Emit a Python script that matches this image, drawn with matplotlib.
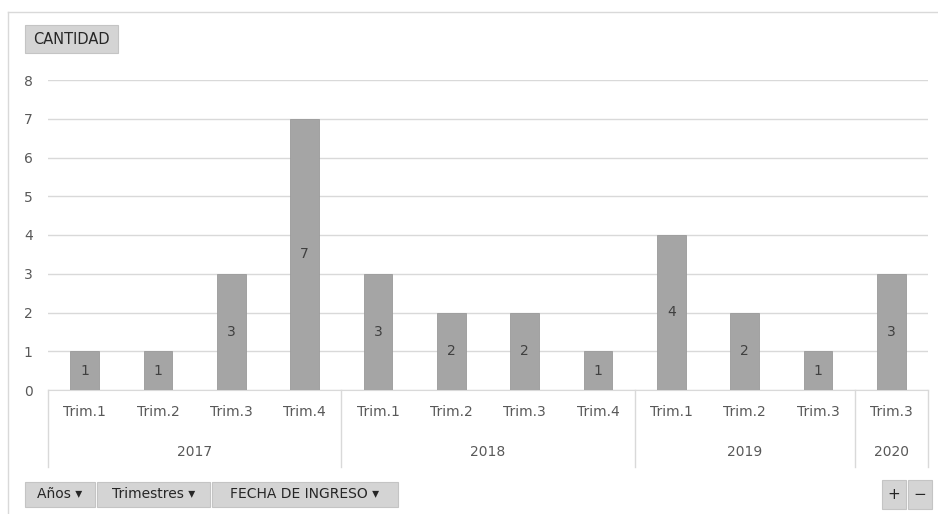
import matplotlib.pyplot as plt
from matplotlib.patches import Rectangle
from matplotlib.transforms import blended_transform_factory

# data
years = ['2017', '2018', '2019', '2020']
quarters = ['Trim.1', 'Trim.2', 'Trim.3', 'Trim.4',
            'Trim.1', 'Trim.2', 'Trim.3', 'Trim.4',
            'Trim.1', 'Trim.2', 'Trim.3',
            'Trim.3']
quarters_per_year = [4, 4, 3, 1]
cantidad = [1, 1, 3, 7, 3, 2, 2, 1, 4, 2, 1, 3]

txt = '#595959'
grid = '#d9d9d9'
W, H = 938, 514

plt.rcParams['font.family'] = ['DejaVu Sans']
fig = plt.figure(figsize=(W / 100, H / 100), dpi=100)

def fx(px):
    return px / W

def fy(py):
    return 1 - py / H

# outer chart frame (left and top edges visible)
fig.add_artist(plt.Line2D([fx(8), fx(8)], [fy(12), 0], color=grid, lw=1))
fig.add_artist(plt.Line2D([fx(8), 1], [fy(12), fy(12)], color=grid, lw=1))

ax = fig.add_axes([fx(48), fy(390), fx(928) - fx(48), fy(80) - fy(390)])
x = list(range(len(cantidad)))
bars = ax.bar(x, cantidad, width=0.39, color='#a5a5a5', edgecolor='#9a9a9a', lw=0.6, zorder=3)
for b, v in zip(bars, cantidad):
    ax.text(b.get_x() + b.get_width() / 2, v / 2, str(v), ha='center', va='center',
            color='#404040', fontsize=10, zorder=4)

ax.set_xlim(-0.5, len(cantidad) - 0.5)
ax.set_ylim(0, 8)
ax.set_yticks(range(0, 9))
ax.yaxis.grid(True, color=grid, lw=1, zorder=0)
ax.tick_params(axis='y', length=0, pad=11, labelsize=10, labelcolor=txt)
ax.set_xticks([])
for s in ['top', 'right', 'left']:
    ax.spines[s].set_visible(False)
ax.spines['bottom'].set_color(grid)

tr = blended_transform_factory(ax.transData, ax.transAxes)
axh = 310.0
for i, q in enumerate(quarters):
    ax.text(i, -22 / axh, q, transform=tr, ha='center', va='center', fontsize=10, color=txt)

start = 0
bounds = [-0.5]
for y, n in zip(years, quarters_per_year):
    mid = start + (n - 1) / 2
    ax.text(mid, -62 / axh, y, transform=tr, ha='center', va='center', fontsize=10, color=txt)
    start += n
    bounds.append(start - 0.5)
for b in bounds:
    ax.plot([b, b], [0, -77 / axh], transform=tr, color=grid, lw=1, clip_on=False)

# field buttons
def button(x0, y0, x1, y1, label, size=10):
    fig.add_artist(Rectangle((fx(x0), fy(y1)), fx(x1) - fx(x0), fy(y0) - fy(y1),
                             facecolor='#d4d4d4', edgecolor='#c4c4c4', lw=0.8))
    fig.text(fx((x0 + x1) / 2), fy((y0 + y1) / 2), label, ha='center', va='center',
             fontsize=size, color='#262626')

button(25, 25, 118, 53, 'CANTIDAD', size=10.5)
button(25, 482, 95, 507, 'Años ▾')
button(97, 482, 210, 507, 'Trimestres ▾')
button(212, 482, 398, 507, 'FECHA DE INGRESO ▾')
button(882, 480, 906, 509, '+', size=11)
button(908, 480, 932, 509, '−', size=11)

fig.savefig('out.png', dpi=100)
